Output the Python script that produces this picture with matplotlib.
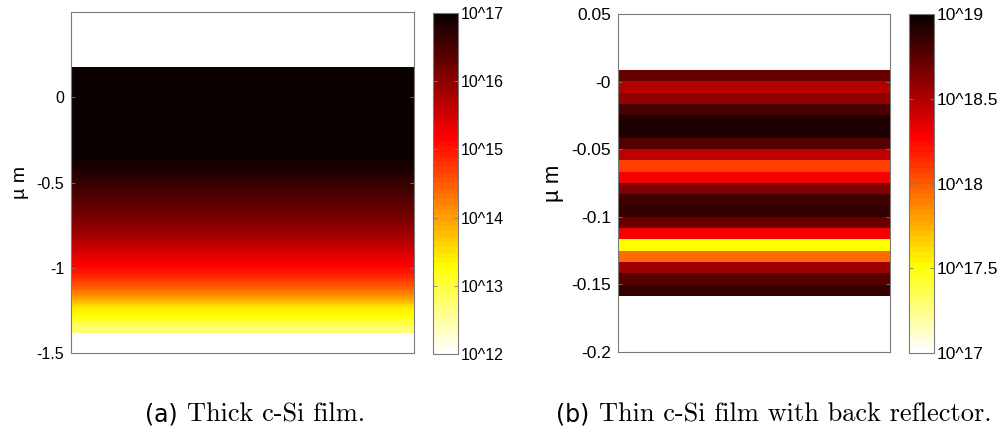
import numpy as np
import matplotlib
matplotlib.use("Agg")
import matplotlib.pyplot as plt
from matplotlib.colors import ListedColormap, Normalize


# -------------------------
# DATA
# -------------------------
# (a) thick film: log10 values read at evenly spaced depths (um), top to bottom
thick_top = 0.18
thick_bottom = -1.38
thick_log = [17.6, 17.5, 17.4, 17.3, 17.25, 17.2, 17.15, 17.05, 16.98,
             16.88, 16.76, 16.63, 16.48, 16.33, 16.19, 16.03, 15.84, 15.6,
             15.36, 15.15, 14.85, 14.5, 14.05, 13.45, 13.22, 12.75]

# (b) thin film with back reflector: 20 layers, top to bottom
thin_top = 0.0083
thin_bottom = -0.1587
thin_log = [18.715, 18.473, 18.575, 18.811, 18.912, 18.912, 18.763, 18.446,
            18.079, 18.29, 18.649, 18.84, 18.864, 18.715, 18.29, 17.5,
            17.953, 18.554, 18.781, 18.853]

thick_yticks = [0, -0.5, -1, -1.5]
thick_ylabels = ["0", "-0.5", "-1", "-1.5"]
thin_yticks = [0.05, 0, -0.05, -0.1, -0.15, -0.2]
thin_ylabels = ["0.05", "-0", "-0.05", "-0.1", "-0.15", "-0.2"]

thick_cticks = [12, 13, 14, 15, 16, 17]
thin_cticks = [17, 17.5, 18, 18.5, 19]

captions = [("(a)", "Thick c-Si film."),
            ("(b)", "Thin c-Si film with back reflector.")]


# -------------------------
# STYLE
# -------------------------
plt.rcParams["font.family"] = ["Liberation Sans", "DejaVu Sans"]
plt.rcParams["axes.unicode_minus"] = False

# MATLAB-like hot colormap, 64 levels, flipped (white = low)
hot64 = ListedColormap(plt.get_cmap("hot")(np.linspace(0, 1, 64))[::-1])

spine_col = "#7a7a7a"

fig = plt.figure(figsize=(10.08, 4.37), dpi=100)

# the two subfigures were scaled separately, so (b) has slightly larger text
panels = [
    dict(ax=[0.0704, 0.1922, 0.3403, 0.7803], cax=[0.4296, 0.190, 0.0248, 0.7803],
         vals=thick_log, top=thick_top, bottom=thick_bottom, ylim=(-1.5, 0.5),
         yticks=thick_yticks, ylabels=thick_ylabels, clim=(12, 17),
         cticks=thick_cticks, interp="bilinear", fs=11.5, lfs=14),
    dict(ax=[0.6131, 0.1945, 0.2698, 0.7735], cax=[0.9018, 0.1922, 0.0248, 0.7757],
         vals=thin_log, top=thin_top, bottom=thin_bottom, ylim=(-0.2, 0.05),
         yticks=thin_yticks, ylabels=thin_ylabels, clim=(17, 19),
         cticks=thin_cticks, interp="nearest", fs=12.5, lfs=16),
]

for p in panels:
    ax = fig.add_axes(p["ax"])
    data = np.array(p["vals"])[:, None] * np.ones((1, 2))
    im = ax.imshow(data, cmap=hot64, norm=Normalize(*p["clim"]),
                   extent=[0, 1, p["bottom"], p["top"]], origin="upper",
                   aspect="auto", interpolation=p["interp"],
                   interpolation_stage="data")
    ax.set_xlim(0, 1)
    ax.set_ylim(*p["ylim"])
    ax.set_xticks([])
    ax.set_yticks(p["yticks"])
    ax.set_yticklabels(p["ylabels"])
    ax.tick_params(axis="y", direction="in", length=3, width=0.6,
                   color=spine_col, pad=5, right=True, labelsize=p["fs"])
    for s in ax.spines.values():
        s.set_color(spine_col)
        s.set_linewidth(0.8)
    ax.set_ylabel("\u00b5 m", fontsize=p["lfs"], labelpad=5)

    cax = fig.add_axes(p["cax"])
    cb = fig.colorbar(im, cax=cax, ticks=p["cticks"])
    cb.set_ticklabels(["10^" + ("%g" % t) for t in p["cticks"]])
    cb.outline.set_edgecolor(spine_col)
    cb.outline.set_linewidth(0.8)
    cax.tick_params(direction="in", length=3, width=0.6, color=spine_col,
                    pad=2, left=True, labelsize=p["fs"])

# -------------------------
# CAPTIONS
# -------------------------
cap_x = [0.144, 0.552]
for (tag, text), x in zip(captions, cap_x):
    t = fig.text(x, 0.035, tag, fontsize=17, family="DejaVu Sans",
                 va="baseline", ha="left")
    fig.canvas.draw()
    bb = t.get_window_extent()
    x2 = (bb.x1 + 9) / fig.bbox.width
    fig.text(x2, 0.035, text, fontsize=19, family="cmr10",
             va="baseline", ha="left")

fig.savefig("out.png", dpi=100)
